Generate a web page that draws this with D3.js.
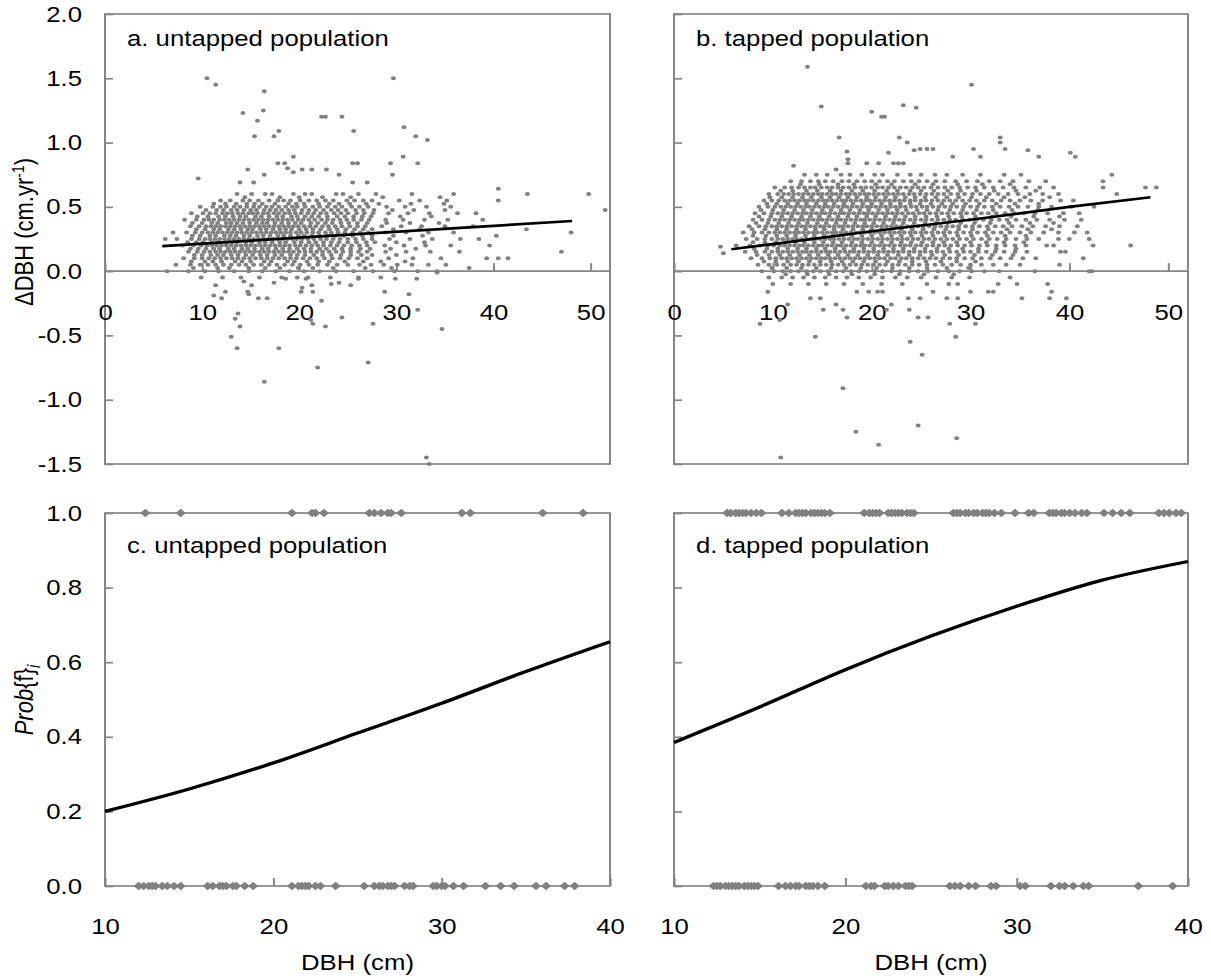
<!DOCTYPE html>
<html>
<head>
<meta charset="utf-8">
<script src="https://cdn.jsdelivr.net/npm/d3@7"></script>
<style>
  body { margin: 0; background: #fff; }
  svg { display: block; }
  text { font-family: Arial, "Liberation Sans", sans-serif; fill: #000; }
</style>
</head>
<body>
<svg id="chart" width="1211" height="979"></svg>
<script>
// ---- data ----
const growthTicks = [-1.5, -1, -0.5, 0, 0.5, 1, 1.5, 2]
const dbhTicksTop = [0, 10, 20, 30, 40, 50]
const probTicks = [0, 0.2, 0.4, 0.6, 0.8, 1]
const dbhTicksBottom = [10, 20, 30, 40]
const panelLabels = ["a. untapped population", "b. tapped population", "c. untapped population", "d. tapped population"]

// growth rows: [ΔDBH, [DBH, ...]]
const untappedRows = [
  [0.60, [13.6,15.1,16.5,17.2,19.4,20.6,21.3,23.8,24.5,26.1,27.9,31.6,35.9,43.5,49.8]],
  [0.575, [14.4,18.0,20.0,22.4,25.3,28.6,34.5]],
  [0.55, [11.9,12.9,14.2,14.9,15.8,16.9,17.8,18.4,19.1,20.1,21.0,21.8,22.7,23.5,24.9,25.7,26.6,27.5,30.3,32.4,35.2,40.5]],
  [0.525, [11.2,12.4,13.5,14.6,15.4,16.2,17.5,18.9,19.7,20.5,22.0,23.1,24.1,25.2,26.9,28.2,31.5,34.9]],
  [0.50, [9.8,11.1,11.9,12.5,13.3,13.9,14.6,15.3,15.9,16.6,17.2,17.9,18.6,19.3,19.8,20.6,21.4,22.1,22.9,23.7,24.4,25.4,26.2,27.1,29.0,30.9,33.1,35.6]],
  [0.475, [10.4,11.5,12.2,13.0,13.6,14.3,15.0,15.6,16.4,17.0,17.6,18.2,18.9,19.5,20.3,21.0,21.7,22.5,23.3,24.0,24.8,25.8,26.6,27.7,29.6,31.8,35.0,51.5]],
  [0.45, [8.9,10.1,10.8,11.4,12.1,12.6,13.1,13.7,14.2,14.8,15.2,15.7,16.3,16.8,17.4,17.9,18.5,19.0,19.6,20.2,20.9,21.5,22.2,22.8,23.6,24.3,25.0,25.9,26.7,27.6,29.2,31.2,33.4,36.3,38.2]],
  [0.425, [9.5,10.6,11.7,12.4,13.2,13.9,14.5,15.5,16.1,16.9,17.7,18.3,19.2,19.8,20.6,21.3,22.0,22.9,23.9,24.7,25.6,26.5,27.4,30.4,33.6]],
  [0.40, [8.2,9.4,10.2,10.7,11.2,11.8,12.3,12.8,13.3,13.8,14.3,14.8,15.3,15.8,16.3,16.8,17.3,17.8,18.3,18.8,19.3,19.9,20.4,21.0,21.6,22.3,22.9,23.5,24.2,24.9,25.6,26.4,27.2,28.9,30.7,32.9,35.3,38.9]],
  [0.375, [9.0,10.0,11.0,11.6,12.5,13.0,13.6,14.2,14.9,15.6,16.2,16.7,17.5,18.2,18.9,19.6,20.2,21.2,21.9,22.7,23.4,24.3,25.1,26.0,27.0,29.0,31.4,34.4]],
  [0.35, [8.8,9.7,10.4,10.9,11.4,11.9,12.4,12.9,13.4,13.9,14.4,14.9,15.4,15.9,16.4,16.9,17.4,17.9,18.4,18.9,19.4,19.9,20.5,21.1,21.7,22.4,23.0,23.7,24.4,25.2,26.0,26.8,28.5,30.5,32.6,35.0,37.9]],
  [0.325, [9.4,10.3,11.2,11.8,12.7,13.3,14.0,14.7,15.2,16.0,16.6,17.3,18.0,18.6,19.2,20.0,20.7,21.4,22.2,23.1,23.9,24.8,25.7,26.6,27.5,29.7,32.4,43.4]],
  [0.30, [7.0,8.4,9.3,10.0,10.6,11.1,11.6,12.1,12.6,13.1,13.6,14.1,14.6,15.1,15.6,16.1,16.6,17.1,17.6,18.1,18.6,19.1,19.7,20.2,20.8,21.4,22.0,22.7,23.3,24.0,24.7,25.5,26.3,27.1,28.9,31.0,33.3,35.9,48.0]],
  [0.275, [9.0,9.8,10.8,11.4,12.3,12.9,13.5,14.3,14.9,15.7,16.3,17.0,17.8,18.4,19.1,19.9,20.5,21.3,22.1,22.9,23.7,24.6,25.5,26.5,27.5,29.7,32.7,40.3]],
  [0.25, [6.2,7.4,8.9,9.7,10.3,10.8,11.3,11.8,12.3,12.8,13.3,13.8,14.3,14.8,15.3,15.8,16.3,16.8,17.3,17.8,18.3,18.8,19.3,19.8,20.3,20.9,21.5,22.2,22.8,23.5,24.2,25.0,25.8,26.6,27.5,29.3,31.4,33.7,36.6,38.5]],
  [0.225, [8.5,9.4,10.1,11.0,11.6,12.5,13.1,13.6,14.5,15.1,15.9,16.5,17.2,18.0,18.6,19.5,20.2,21.0,21.7,22.5,23.3,24.1,25.0,25.9,26.9,27.8,30.0,32.9]],
  [0.20, [8.0,9.1,9.9,10.5,11.0,11.5,12.0,12.5,13.0,13.5,14.0,14.5,15.0,15.5,16.0,16.5,17.0,17.5,18.0,18.5,19.0,19.6,20.1,20.7,21.3,21.9,22.5,23.2,23.9,24.6,25.4,26.2,27.0,28.8,30.8,33.0,35.6,39.6]],
  [0.175, [8.8,9.6,10.4,11.2,11.8,12.7,13.3,14.1,14.7,15.4,16.2,16.8,17.6,18.3,19.0,19.8,20.5,21.2,22.1,22.8,23.6,24.4,25.3,26.3,27.3,29.4,32.0]],
  [0.15, [8.6,9.5,10.2,10.8,11.4,11.9,12.4,12.9,13.4,13.9,14.4,14.9,15.4,15.9,16.4,16.9,17.4,17.9,18.4,18.9,19.4,20.0,20.6,21.2,21.8,22.4,23.1,23.8,24.5,25.3,26.1,27.0,28.9,31.0,33.5,36.5,47.0]],
  [0.125, [9.2,10.0,10.9,11.6,12.2,13.0,13.7,14.5,15.2,16.0,16.7,17.5,18.2,19.1,19.8,20.6,21.5,22.4,23.3,24.3,25.3,26.4,27.5,30.0]],
  [0.10, [8.1,9.2,10.0,10.7,11.3,11.9,12.5,13.1,13.7,14.3,14.9,15.5,16.1,16.7,17.3,17.9,18.5,19.1,19.7,20.4,21.1,21.8,22.6,23.4,24.2,25.1,26.0,27.0,29.2,31.7,34.6,39.3,40.5,41.5]],
  [0.075, [8.9,10.3,11.1,12.0,13.4,14.1,15.0,16.4,17.1,18.8,19.5,20.8,22.0,23.1,24.7,26.6,28.4,30.9]],
  [0.05, [7.3,8.8,9.8,10.6,11.4,12.2,13.0,13.8,14.5,15.3,16.1,16.9,17.7,18.5,19.3,20.1,21.0,21.9,22.9,23.9,25.0,26.2,27.4,28.7,30.1,31.6,33.3,35.1]],
  [0.025, [9.1,11.6,12.8,14.8,16.5,18.0,19.9,21.4,23.5,26.8,29.5,37.5]],
  [0.00, [6.4,8.6,10.3,11.7,13.3,14.8,16.2,17.6,19.0,20.5,22.1,23.8,25.6,27.6,29.8,32.2,34.2]],
  [-0.05, [9.9,12.1,14.0,15.9,18.2,19.8,20.9,23.2,26.1,28.4]]
]
// isolated points: [DBH, ΔDBH]
const untappedScattered = [
  [10.5,1.5],[11.4,1.45],[16.4,1.40],[14.2,1.23],[16.3,1.25],[15.7,1.17],[15.4,1.05],[17.4,1.05],[17.9,1.09],
  [19.4,0.89],[17.8,0.84],[18.5,0.84],[18.8,0.80],[19.4,0.77],[14.7,0.79],[16.4,0.75],[13.9,0.69],[15.3,0.69],
  [9.6,0.72],[29.7,1.5],[22.3,1.2],[22.7,1.2],[24.4,1.2],[25.6,1.09],[30.8,1.12],[32.0,1.05],[33.2,1.02],
  [30.7,0.89],[25.5,0.84],[26.0,0.84],[29.4,0.84],[32.2,0.84],[29.6,0.75],[25.5,0.69],[27.0,0.69],[24.1,0.75],
  [20.3,0.79],[21.3,0.79],[22.8,0.79],[40.5,0.64],
  [11.4,-0.11],[12.4,-0.16],[11.2,-0.19],[12.0,-0.21],[13.7,-0.33],[13.4,-0.37],[13.9,-0.43],[13.0,-0.51],
  [13.6,-0.60],[17.9,-0.60],[16.4,-0.86],[21.9,-0.75],[14.3,-0.08],[15.1,-0.11],[14.7,-0.16],[14.8,-0.18],
  [15.8,-0.21],[16.7,-0.21],[17.4,-0.09],[18.6,-0.06],[20.3,-0.13],[20.2,-0.16],[21.4,-0.16],[21.2,-0.38],
  [21.4,-0.41],[22.3,-0.23],[24.4,-0.36],[22.7,-0.43],[27.6,-0.41],[28.8,-0.16],[31.3,-0.18],[32.2,-0.30],
  [34.7,-0.45],[27.1,-0.71],[33.1,-1.45],[33.4,-1.50],[34.2,-0.01],[20.7,-0.06],[21.3,-0.11],[23.3,-0.10],
  [24.1,-0.09],[25.3,-0.11],[26.1,-0.06],[29.9,-0.06],[32.1,-0.06]
]

const tappedRows = [
  [0.75, [13.2,14.4,15.5,16.9,17.8,19.0,20.3,21.1,22.6,23.9,25.0,26.4,27.6,29.2,31.0,33.4,35.1,44.3]],
  [0.70, [11.8,12.9,13.8,14.6,15.3,16.1,17.0,17.7,18.5,19.3,20.0,20.8,21.6,22.3,23.2,24.0,24.8,25.6,26.5,27.4,28.5,29.6,30.7,31.9,33.0,34.3,35.9,37.6,43.4]],
  [0.675, [12.8,14.7,16.6,18.2,20.4,22.0,24.4,26.2,28.7,31.2,34.0]],
  [0.65, [10.2,11.2,11.9,12.6,13.2,13.8,14.3,14.9,15.5,16.0,16.6,17.1,17.7,18.3,18.9,19.4,20.0,20.6,21.1,21.7,22.3,22.9,23.5,24.1,24.7,25.3,26.0,26.7,27.4,28.1,28.9,29.7,30.5,31.4,32.3,33.3,34.4,35.6,37.0,38.4,43.4,47.7,48.8]],
  [0.625, [10.8,12.0,13.4,14.5,15.8,16.9,18.0,19.1,20.3,21.5,22.6,23.9,25.0,26.3,27.7,29.0,30.6,32.4,34.6,36.6]],
  [0.60, [9.6,10.5,11.1,11.6,12.1,12.6,13.1,13.6,14.1,14.6,15.0,15.5,16.0,16.4,16.9,17.4,17.8,18.3,18.8,19.3,19.7,20.2,20.7,21.2,21.7,22.2,22.7,23.2,23.8,24.3,24.9,25.5,26.1,26.7,27.3,28.0,28.7,29.4,30.2,31.0,31.9,32.8,33.8,34.8,36.0,37.3,38.9,44.8]],
  [0.575, [9.7,10.9,12.0,13.0,13.9,14.9,15.8,16.7,17.6,18.5,19.5,20.4,21.4,22.4,23.4,24.4,25.4,26.5,27.6,28.8,30.1,31.6,33.4,35.5,38.0]],
  [0.55, [9.1,9.9,10.6,11.2,11.7,12.2,12.7,13.2,13.6,14.1,14.6,15.1,15.5,16.0,16.5,17.0,17.4,17.9,18.4,18.9,19.4,19.8,20.3,20.8,21.3,21.8,22.3,22.8,23.3,23.9,24.4,25.0,25.5,26.1,26.7,27.3,27.9,28.5,29.2,29.9,30.6,31.4,32.2,33.1,34.0,35.0,36.1,37.3,39.1,40.4]],
  [0.525, [9.4,10.4,11.5,12.5,13.4,14.4,15.3,16.2,17.2,18.1,19.1,20.0,21.0,21.9,22.9,23.9,24.9,26.0,27.1,28.2,29.5,30.9,32.6,34.5,36.9]],
  [0.50, [8.6,9.5,10.2,10.8,11.3,11.8,12.3,12.8,13.3,13.7,14.2,14.7,15.2,15.6,16.1,16.6,17.1,17.5,18.0,18.5,19.0,19.5,19.9,20.4,20.9,21.4,21.9,22.4,22.9,23.4,24.0,24.5,25.1,25.6,26.2,26.8,27.4,28.0,28.6,29.3,30.0,30.7,31.4,32.2,33.0,33.9,34.8,35.8,36.9,38.2,40.2,42.5]],
  [0.475, [8.8,10.0,11.1,12.2,13.1,14.0,15.0,15.9,16.9,17.8,18.8,19.7,20.7,21.6,22.6,23.5,24.6,25.6,26.7,27.9,29.2,30.6,32.3,34.2,36.8]],
  [0.45, [8.2,9.1,9.9,10.5,11.0,11.5,12.0,12.5,13.0,13.4,13.9,14.4,14.9,15.3,15.8,16.3,16.8,17.2,17.7,18.2,18.7,19.2,19.6,20.1,20.6,21.1,21.6,22.1,22.6,23.1,23.7,24.2,24.8,25.3,25.9,26.5,27.1,27.7,28.3,29.0,29.6,30.3,31.1,31.8,32.6,33.5,34.4,35.4,36.5,37.8,39.4,41.0]],
  [0.425, [8.6,9.8,10.9,11.9,12.9,13.8,14.7,15.7,16.6,17.6,18.5,19.5,20.4,21.4,22.4,23.4,24.4,25.5,26.6,27.8,29.1,30.5,32.2,34.1,36.4,39.0]],
  [0.40, [8.0,8.9,9.6,10.2,10.7,11.2,11.7,12.2,12.7,13.1,13.6,14.1,14.6,15.0,15.5,16.0,16.5,16.9,17.4,17.9,18.4,18.9,19.3,19.8,20.3,20.8,21.3,21.8,22.3,22.8,23.3,23.9,24.4,25.0,25.5,26.1,26.7,27.3,27.9,28.5,29.2,29.9,30.6,31.3,32.1,32.9,33.7,34.6,35.6,36.7,38.0,39.5,41.2]],
  [0.375, [8.3,9.5,10.6,11.6,12.6,13.5,14.5,15.4,16.4,17.3,18.3,19.3,20.2,21.2,22.2,23.2,24.3,25.4,26.5,27.7,29.0,30.4,32.0,33.9,36.0,38.4]],
  [0.35, [7.6,8.6,9.3,9.9,10.4,10.9,11.4,11.9,12.4,12.9,13.3,13.8,14.3,14.8,15.2,15.7,16.2,16.7,17.1,17.6,18.1,18.6,19.1,19.5,20.0,20.5,21.0,21.5,22.0,22.5,23.0,23.6,24.1,24.7,25.2,25.8,26.4,27.0,27.6,28.2,28.8,29.5,30.2,30.9,31.7,32.5,33.3,34.2,35.2,36.3,37.6,39.0,40.8]],
  [0.325, [7.9,9.2,10.4,11.4,12.4,13.3,14.3,15.2,16.2,17.1,18.1,19.1,20.0,21.0,22.0,23.0,24.1,25.2,26.3,27.5,28.8,30.2,31.8,33.7,35.8,38.2]],
  [0.30, [7.0,8.1,8.9,9.6,10.2,10.7,11.2,11.7,12.2,12.6,13.1,13.6,14.1,14.5,15.0,15.5,16.0,16.4,16.9,17.4,17.9,18.4,18.8,19.3,19.8,20.3,20.8,21.3,21.8,22.3,22.8,23.3,23.9,24.4,25.0,25.5,26.1,26.7,27.3,27.9,28.6,29.3,30.0,30.7,31.5,32.3,33.1,34.0,35.0,36.1,37.4,38.9,40.5,41.8]],
  [0.275, [8.0,9.3,10.4,11.4,12.3,13.3,14.2,15.2,16.1,17.1,18.0,19.0,20.0,21.0,22.0,23.0,24.0,25.1,26.2,27.4,28.7,30.1,31.7,33.5,35.6]],
  [0.25, [7.3,8.4,9.2,9.9,10.5,11.0,11.5,12.0,12.4,12.9,13.4,13.9,14.3,14.8,15.3,15.8,16.2,16.7,17.2,17.7,18.2,18.6,19.1,19.6,20.1,20.6,21.1,21.6,22.1,22.6,23.1,23.6,24.2,24.7,25.3,25.8,26.4,27.0,27.6,28.2,28.9,29.6,30.3,31.1,31.9,32.7,33.6,34.6,35.7,36.9,38.9,40.0,42.0]],
  [0.225, [8.0,9.2,10.3,11.3,12.3,13.2,14.2,15.1,16.1,17.0,18.0,19.0,20.0,21.0,22.0,23.0,24.0,25.1,26.2,27.3,28.6,30.0,31.6,33.4,35.4]],
  [0.20, [6.3,7.7,8.7,9.5,10.1,10.7,11.2,11.7,12.2,12.7,13.1,13.6,14.1,14.6,15.0,15.5,16.0,16.5,16.9,17.4,17.9,18.4,18.9,19.3,19.8,20.3,20.8,21.3,21.8,22.3,22.9,23.4,23.9,24.5,25.0,25.6,26.2,26.8,27.4,28.0,28.7,29.4,30.1,30.9,31.7,32.6,33.5,34.5,35.6,37.7,38.4,42.4,46.2]],
  [0.175, [8.1,9.4,10.5,11.5,12.5,13.4,14.4,15.3,16.3,17.2,18.2,19.2,20.2,21.2,22.2,23.2,24.3,25.4,26.6,27.8,29.2,30.8,32.6,34.6]],
  [0.15, [7.2,8.3,9.2,9.9,10.5,11.0,11.5,12.0,12.5,13.0,13.4,13.9,14.4,14.9,15.4,15.8,16.3,16.8,17.3,17.8,18.2,18.7,19.2,19.7,20.2,20.7,21.2,21.7,22.2,22.7,23.2,23.8,24.3,24.9,25.4,26.0,26.6,27.2,27.9,28.6,29.3,30.0,30.8,31.6,32.5,33.4,34.5,35.7,39.1,39.6]],
  [0.125, [8.4,9.6,10.7,11.7,12.7,13.7,14.6,15.6,16.6,17.6,18.6,19.6,20.6,21.6,22.7,23.8,24.9,26.1,27.4,28.8,30.4,32.2,34.3]],
  [0.10, [7.8,8.9,9.7,10.3,10.9,11.4,11.9,12.4,12.9,13.4,13.9,14.4,14.9,15.3,15.8,16.3,16.8,17.3,17.8,18.3,18.8,19.3,19.8,20.3,20.8,21.3,21.9,22.4,23.0,23.5,24.1,24.7,25.3,25.9,26.5,27.2,27.9,28.6,29.4,30.2,31.1,32.0,33.0,34.1,35.3,36.6,41.4]],
  [0.075, [9.1,10.3,11.5,12.6,13.7,14.8,15.9,17.0,18.1,19.2,20.4,21.6,22.8,24.1,25.5,27.0,28.6,30.5]],
  [0.05, [8.5,9.6,10.4,11.1,11.8,12.4,13.0,13.6,14.2,14.8,15.4,16.0,16.6,17.2,17.8,18.4,19.0,19.6,20.2,20.8,21.4,22.1,22.7,23.4,24.1,24.8,25.6,26.4,27.2,28.1,29.0,30.0,31.1,32.3,33.6,35.0,39.0]],
  [0.025, [9.9,11.4,12.9,14.4,15.9,17.4,18.9,20.5,22.1,23.8,25.6,27.6,29.8]],
  [0.00, [8.9,10.1,11.0,11.8,12.6,13.4,14.1,14.8,15.6,16.4,17.1,17.9,18.7,19.5,20.3,21.1,22.0,22.9,23.8,24.7,25.7,26.7,27.8,28.9,30.1,31.4,32.9,36.5,42.0,42.3]],
  [-0.025, [11.3,13.5,15.7,18.0,20.3,22.8,25.3,28.3]],
  [-0.05, [9.6,10.9,12.0,13.1,14.2,15.3,16.4,17.5,18.7,19.9,21.1,22.4,23.6,25.0,26.5,28.1,29.9,34.0]],
  [-0.10, [10.0,11.8,13.6,15.4,17.2,19.1,21.0,23.1,25.6,27.8,28.7,32.8,34.7,37.8]]
]
const tappedScattered = [
  [13.5,1.59],[14.9,1.28],[20.0,1.24],[21.0,1.2],[21.3,1.2],[23.2,1.29],[24.5,1.27],[30.1,1.45],[16.7,1.04],
  [22.8,1.04],[23.6,1.0],[17.5,0.93],[17.6,0.87],[17.6,0.84],[21.7,0.92],[24.3,0.94],[12.1,0.82],[16.4,0.79],
  [33.0,1.04],[33.0,1.0],[33.5,0.95],[40.1,0.92],[40.6,0.89],[30.3,0.95],[31.0,0.89],[35.8,0.94],[36.9,0.89],
  [28.2,0.89],[24.9,0.95],[25.6,0.95],[26.2,0.95],[19.5,0.84],[20.7,0.84],[22.2,0.84],[22.7,0.84],[23.2,0.84],
  [4.7,0.19],[5.0,0.14],
  [8.7,-0.41],[10.7,-0.38],[11.5,-0.26],[14.3,-0.51],[17.1,-0.91],[18.4,-1.25],[20.7,-1.35],[10.8,-1.45],
  [23.9,-0.55],[24.7,-1.2],[15.1,-0.30],[16.4,-0.26],[17.1,-0.30],[17.5,-0.36],[21.5,-0.30],[22.0,-0.26],
  [23.8,-0.30],[25.1,-0.65],[28.6,-1.3],[28.5,-0.51],[27.9,-0.41],[30.5,-0.41],[24.7,-0.36],[25.7,-0.36],
  [38.2,-0.16],[38.0,-0.21],[35.2,-0.21],[39.7,-0.21],[32.3,-0.16],[31.8,-0.16],[30.0,-0.16],[27.6,-0.21],
  [28.7,-0.21],[26.2,-0.16],[24.9,-0.21],[23.7,-0.21],[13.8,-0.21],[14.8,-0.21],[18.5,-0.16],[19.7,-0.16],
  [20.6,-0.16],[21.1,-0.16],[9.5,-0.16]
]

// fitted lines, read at a few DBH values
const untappedFitDbh = [5.9, 48.1]
const untappedFitGrowth = [0.195, 0.39]
const tappedFitDbh = [5.8, 10, 20, 30, 40, 48.2]
const tappedFitGrowth = [0.17, 0.21, 0.31, 0.40, 0.50, 0.575]

// flowering probability curves
const probDbh = [10, 15, 20, 25, 30, 35, 40]
const untappedProb = [0.20, 0.26, 0.33, 0.41, 0.49, 0.575, 0.655]
const tappedProb = [0.385, 0.48, 0.58, 0.67, 0.75, 0.82, 0.87]

// observed trees (DBH) flowering (1) / not flowering (0)
const untappedFlowering = [12.4,14.5,21.1,22.3,22.5,23.0,25.7,26.0,26.4,26.8,27.0,27.6,31.2,31.7,36.0,38.4]
const untappedNotFlowering = [12.0,12.3,12.6,12.8,13.0,13.4,13.7,14.1,14.5,16.1,16.4,16.8,17.0,17.2,17.6,17.8,18.3,18.8,
  21.1,21.5,21.7,21.9,22.1,22.5,22.8,23.7,25.4,26.0,26.3,26.5,26.8,27.0,27.2,27.8,28.1,28.3,
  29.5,29.7,30.0,30.2,30.7,31.3,32.6,33.5,34.3,35.6,36.2,37.3,37.9]
const tappedFlowering = [13.1,13.3,13.6,13.8,14.0,14.2,14.5,14.8,15.1,16.3,16.7,17.1,17.3,17.5,17.7,18.0,18.2,18.4,18.6,18.8,19.1,
  21.1,21.4,21.6,21.8,22.0,22.5,22.7,22.9,23.1,23.3,23.6,23.8,24.0,26.3,26.5,26.7,27.0,27.2,27.5,27.7,28.0,28.2,28.4,28.7,29.1,
  29.9,30.7,31.0,31.9,32.1,32.3,32.6,32.8,33.1,33.4,33.8,34.1,35.1,35.6,36.1,36.6,38.3,38.6,38.9,39.3,39.6]
const tappedNotFlowering = [12.3,12.5,12.7,13.0,13.2,13.4,13.6,13.8,14.1,14.3,14.5,14.7,14.9,16.1,16.5,16.8,17.1,17.3,17.7,17.9,18.1,18.4,18.8,
  21.2,21.5,21.7,22.3,22.5,22.8,23.1,23.5,23.7,23.9,26.1,26.4,26.7,27.2,27.6,28.5,28.8,30.2,30.5,
  32.0,32.5,32.8,33.3,33.9,34.2,37.1,39.1]

// ---- drawing ----
const K = 1.17            // the source figure is stretched sideways
const axisGray = "#868686"
const pointGray = "#808080"
const fontFamily = "Arial, 'Liberation Sans', sans-serif"

let svg = d3.select("#chart")
    .attr("viewBox", [0, 0, 1211 / K, 979].join(" "))
    .attr("preserveAspectRatio", "none")

let sx = v => v / K

function styleAxis(sel) {
    sel.select(".domain").remove()
    sel.selectAll(".tick line").attr("stroke", axisGray).attr("stroke-width", 1.7)
    sel.selectAll(".tick text").attr("fill", "#000")
    sel.attr("font-size", 22).attr("font-family", fontFamily)
}

function drawBox(g, xScale, yScale) {
    let [x0, x1] = xScale.range()
    let [y1, y0] = yScale.range()
    g.append("rect")
        .attr("x", x0).attr("y", y0)
        .attr("width", x1 - x0).attr("height", y1 - y0)
        .attr("fill", "none")
        .attr("stroke", axisGray)
        .attr("stroke-width", 1.7)
}

function growthPanel(left, right, rows, scattered, fitDbh, fitGrowth, label, yLabels) {
    let xScale = d3.scaleLinear().domain([0, 52]).range([sx(left), sx(right)])
    let yScale = d3.scaleLinear().domain([-1.5, 2]).range([464, 14])
    let g = svg.append("g")

    drawBox(g, xScale, yScale)

    g.append("line")
        .attr("x1", xScale(0)).attr("x2", xScale(52))
        .attr("y1", yScale(0)).attr("y2", yScale(0))
        .attr("stroke", axisGray).attr("stroke-width", 1.7)

    g.append("g")
        .attr("transform", "translate(" + xScale(0) + ",0)")
        .call(d3.axisLeft(yScale)
            .tickValues(growthTicks)
            .tickSize(-8 / K)
            .tickPadding(19.6)
            .tickFormat(d => yLabels ? d.toFixed(1) : ""))
        .call(styleAxis)

    g.append("g")
        .attr("transform", "translate(0," + yScale(0) + ")")
        .call(d3.axisBottom(xScale)
            .tickValues(dbhTicksTop)
            .tickSize(-8)
            .tickPadding(33))
        .call(styleAxis)

    let points = rows.flatMap(([y, xs]) => xs.map(x => [x, y])).concat(scattered)

    g.append("g").selectAll("ellipse")
        .data(points)
        .join("ellipse")
            .attr("cx", d => xScale(d[0]))
            .attr("cy", d => yScale(d[1]))
            .attr("rx", 2.1)
            .attr("ry", 2.0)
            .attr("fill", pointGray)

    let line = d3.line()
        .x(d => xScale(d[0]))
        .y(d => yScale(d[1]))

    g.append("path")
        .datum(fitDbh.map((d, i) => [d, fitGrowth[i]]))
        .attr("d", line)
        .attr("fill", "none")
        .attr("stroke", "#000")
        .attr("stroke-width", 2.7)

    g.append("text")
        .attr("x", sx(left + 22))
        .attr("y", 46)
        .attr("font-size", 22)
        .text(label)
}

function floweringPanel(left, right, flowering, notFlowering, prob, label, yLabels) {
    let xScale = d3.scaleLinear().domain([10, 40]).range([sx(left), sx(right)])
    let yScale = d3.scaleLinear().domain([0, 1]).range([886, 513])
    let g = svg.append("g")

    drawBox(g, xScale, yScale)

    g.append("g")
        .attr("transform", "translate(" + xScale(10) + ",0)")
        .call(d3.axisLeft(yScale)
            .tickValues(probTicks)
            .tickSize(-8 / K)
            .tickPadding(19.6)
            .tickFormat(d => yLabels ? d.toFixed(1) : ""))
        .call(styleAxis)

    g.append("g")
        .attr("transform", "translate(0," + yScale(0) + ")")
        .call(d3.axisBottom(xScale)
            .tickValues(dbhTicksBottom)
            .tickSize(-8)
            .tickPadding(32))
        .call(styleAxis)

    let trees = flowering.map(d => [d, 1]).concat(notFlowering.map(d => [d, 0]))
    let h = 4.3

    g.append("g").selectAll("path")
        .data(trees)
        .join("path")
            .attr("transform", d => "translate(" + xScale(d[0]) + "," + yScale(d[1]) + ")")
            .attr("d", "M0," + (-h) + "L" + h + ",0L0," + h + "L" + (-h) + ",0Z")
            .attr("fill", pointGray)

    let line = d3.line()
        .curve(d3.curveMonotoneX)
        .x(d => xScale(d[0]))
        .y(d => yScale(d[1]))

    g.append("path")
        .datum(probDbh.map((d, i) => [d, prob[i]]))
        .attr("d", line)
        .attr("fill", "none")
        .attr("stroke", "#000")
        .attr("stroke-width", 3.3)

    g.append("text")
        .attr("x", sx(left + 22))
        .attr("y", 553)
        .attr("font-size", 22)
        .text(label)

    svg.append("text")
        .attr("x", (xScale(10) + xScale(40)) / 2)
        .attr("y", 970)
        .attr("text-anchor", "middle")
        .attr("font-size", 22)
        .text("DBH (cm)")
}

growthPanel(105, 610, untappedRows, untappedScattered, untappedFitDbh, untappedFitGrowth, panelLabels[0], true)
growthPanel(674, 1188, tappedRows, tappedScattered, tappedFitDbh, tappedFitGrowth, panelLabels[1], false)
floweringPanel(105, 610, untappedFlowering, untappedNotFlowering, untappedProb, panelLabels[2], true)
floweringPanel(674, 1188, tappedFlowering, tappedNotFlowering, tappedProb, panelLabels[3], false)

// y axis titles
let growthTitle = svg.append("text")
    .attr("transform", "translate(" + sx(33) + ",232) rotate(-90)")
    .attr("text-anchor", "middle")
    .attr("font-size", 22)
growthTitle.append("tspan").text("ΔDBH (cm.yr")
growthTitle.append("tspan").attr("font-size", 14).attr("dy", -8).text("-1")
growthTitle.append("tspan").attr("dy", 8).text(")")

let probTitle = svg.append("text")
    .attr("transform", "translate(" + sx(33) + ",700) rotate(-90)")
    .attr("text-anchor", "middle")
    .attr("font-size", 22)
probTitle.append("tspan").attr("font-style", "italic").text("Prob")
probTitle.append("tspan").text("{f}")
probTitle.append("tspan").attr("font-style", "italic").attr("font-size", 15).attr("dy", 6).text("i")
</script>
</body>
</html>
